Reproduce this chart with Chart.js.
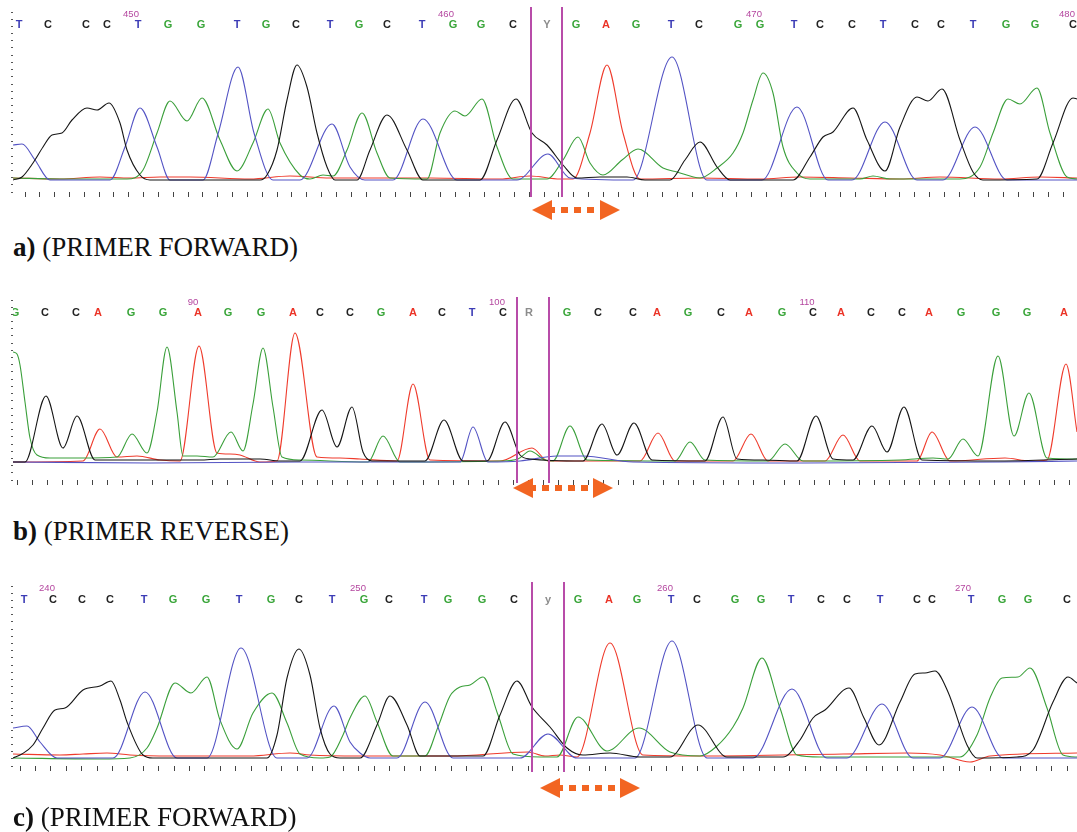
<!DOCTYPE html>
<html>
<head>
<meta charset="utf-8">
<script src="https://cdn.jsdelivr.net/npm/chart.js@4.4.1/dist/chart.umd.min.js"></script>
<style>
  body { margin: 0; background: #fff; width: 1077px; height: 832px; position: relative; overflow: hidden; }
  .panel { position: absolute; left: 0; width: 1077px; }
  .cap { position: absolute; left: 13px; font: 27px "Liberation Serif", "Times New Roman", serif; line-height: 26px; color: #111; white-space: nowrap; }
</style>
</head>
<body>
<div class="panel" style="top:0;height:228px"><canvas id="chartA"></canvas></div>
<div class="panel" style="top:285px;height:225px"><canvas id="chartB"></canvas></div>
<div class="panel" style="top:570px;height:235px"><canvas id="chartC"></canvas></div>
<div class="cap" style="top:234px"><b>a)</b> (PRIMER FORWARD)</div>
<div class="cap" style="top:518px"><b>b)</b> (PRIMER REVERSE)</div>
<div class="cap" style="top:804px"><b>c)</b> (PRIMER FORWARD)</div>
<script>
// ---- panel a (forward) : scan position, signal ----
const aBases = 'TCCCTGGTGCTGCTGGCYGAGTCGGTCCTCCTGGC';
const aBasePos = [19, 48, 86, 107, 138, 168, 201, 237, 266, 296, 330, 359, 387, 422, 453, 481, 513, 547, 576, 606, 636, 671, 699, 738, 760, 794, 820, 852, 883, 915, 941, 973, 1006, 1035, 1073];
const aNums = ['450', '460', '470', '480'];
const aNumPos = [131, 446, 754, 1067];
const aCuts = [531, 562];
const aArrow = [532, 620];
const aT = [[13,35],[22,36],[35,20],[50,0],[110,0],[125,33],[140,72],[157,33],[170,0],[203,0],[218,46],[238,113],[254,47],[273,0],[300,0],[332,56],[350,13],[365,0],[393,0],[423,61],[457,0],[517,0],[548,26],[570,2],[633,0],[672,123],[707,0],[762,0],[797,73],[828,0],[852,0],[885,58],[917,0],[943,0],[975,53],[1007,0],[1077,0]];
const aG = [[13,2],[60,1],[127,1],[143,10],[157,47],[170,79],[187,59],[202,82],[220,40],[237,9],[253,37],[268,71],[280,37],[300,5],[310,1],[323,5],[333,4],[347,30],[362,67],[377,27],[390,2],[427,1],[440,47],[455,69],[465,64],[482,81],[497,33],[513,1],[547,1],[563,20],[578,43],[590,17],[603,5],[622,20],[638,31],[663,12],[677,8],[700,2],[717,12],[733,27],[743,47],[753,80],[763,107],[773,87],[783,33],[797,7],[810,1],[860,1],[873,4],[890,1],[960,1],[980,13],[993,47],[1008,81],[1020,76],[1037,92],[1050,47],[1067,3],[1077,1]];
const aC = [[13,0],[22,3],[33,17],[43,33],[52,45],[62,47],[72,60],[87,72],[97,70],[109,77],[120,57],[127,30],[140,5],[150,0],[260,0],[267,5],[277,30],[287,80],[297,115],[307,93],[317,47],[327,13],[335,0],[357,0],[370,30],[387,65],[407,30],[423,0],[480,0],[497,40],[516,81],[532,47],[547,35],[563,15],[577,2],[600,3],[627,3],[645,0],[670,0],[685,20],[700,38],[717,13],[730,0],[793,0],[810,23],[823,43],[833,48],[853,72],[867,40],[885,9],[900,53],[917,83],[928,79],[942,91],[960,40],[973,8],[983,0],[1037,1],[1053,37],[1073,82],[1077,81]];
const aA = [[13,2],[60,1],[100,3],[130,2],[160,3],[190,3],[250,1],[290,4],[330,2],[430,2],[500,1],[530,4],[560,1],[573,1],[590,47],[607,115],[623,47],[640,1],[700,2],[760,1],[800,3],[850,2],[900,1],[940,3],[1000,1],[1040,3],[1077,2]];

// ---- panel b (reverse) ----
const bBases = 'GCCAGGAGGACCGACTCRGCCAGCAGCACCAGGGA';
const bBasePos = [15, 45, 76, 98, 131, 163, 198, 228, 261, 293, 320, 350, 381, 413, 442, 472, 503, 529, 567, 598, 633, 657, 688, 721, 749, 782, 813, 841, 871, 902, 929, 961, 996, 1027, 1064];
const bNums = ['90', '100', '110'];
const bNumPos = [193, 497, 807];
const bCuts = [517, 549];
const bArrow = [513, 613];
const bT = [[13,0],[150,-1],[300,0],[460,0],[473,35],[488,0],[520,1],[557,6],[583,6],[633,0],[800,-1],[1000,0],[1077,1]];
const bG = [[13,110],[17,108],[20,97],[25,60],[30,24],[37,7],[50,4],[80,4],[117,5],[132,28],[147,9],[157,50],[167,115],[177,50],[183,6],[197,6],[213,5],[231,30],[243,11],[253,58],[263,114],[273,55],[282,5],[300,2],[368,0],[383,26],[400,0],[500,1],[518,3],[530,11],[545,2],[553,1],[570,36],[587,2],[675,1],[690,20],[705,2],[768,1],[785,18],[803,1],[900,2],[933,4],[948,3],[963,23],[978,6],[998,106],[1014,26],[1029,69],[1047,4],[1077,3]];
const bC = [[13,0],[25,0],[46,66],[63,14],[77,46],[95,2],[200,2],[220,3],[260,3],[280,1],[300,1],[322,52],[337,15],[352,55],[363,10],[372,1],[425,1],[444,42],[463,1],[487,1],[505,40],[520,7],[530,3],[583,1],[602,38],[617,7],[634,39],[652,2],[705,1],[723,45],[737,3],[763,2],[797,1],[816,46],[833,3],[853,2],[872,36],[887,10],[904,55],[922,2],[1000,1],[1077,3]];
const bA = [[13,0],[83,1],[100,33],[117,5],[137,6],[160,2],[180,1],[199,116],[217,9],[230,8],[240,7],[260,0],[277,1],[295,129],[317,5],[340,4],[360,3],[397,1],[413,78],[430,2],[500,1],[532,14],[548,1],[640,1],[658,29],[675,1],[733,1],[751,28],[768,1],[825,1],[843,27],[860,1],[917,1],[932,30],[950,1],[1005,4],[1030,1],[1047,2],[1066,98],[1077,30]];

// ---- panel c (forward) ----
const cBases = 'TCCCTGGTGCTGCTGGCyGAGTCGGTCCTCCTGGC';
const cBasePos = [24, 53, 82, 110, 144, 173, 206, 239, 271, 299, 332, 364, 389, 424, 448, 482, 514, 548, 578, 609, 637, 671, 697, 735, 761, 791, 821, 847, 880, 917, 932, 971, 1002, 1028, 1067];
const cNums = ['240', '250', '260', '270'];
const cNumPos = [47, 358, 665, 963];
const cCuts = [532, 564];
const cArrow = [540, 640];
const cT = [[13,30],[27,32],[40,16],[57,0],[113,0],[145,66],[177,0],[207,0],[241,110],[277,0],[307,0],[334,52],[350,16],[360,5],[370,0],[397,0],[425,56],[453,0],[520,0],[548,24],[577,0],[635,0],[672,117],[707,0],[753,0],[792,69],[827,0],[847,0],[882,54],[913,0],[940,0],[972,51],[1003,0],[1077,0]];
const cG = [[13,0],[100,-1],[130,0],[147,10],[157,30],[175,75],[191,65],[207,81],[220,38],[237,9],[253,45],[272,65],[287,35],[300,4],[320,0],[330,1],[343,23],[350,40],[365,62],[377,36],[393,2],[425,2],[438,31],[450,62],[460,71],[470,73],[483,81],[498,43],[513,4],[540,1],[557,1],[578,41],[607,7],[639,30],[670,6],[700,2],[717,12],[733,31],[743,50],[762,100],[780,50],[797,3],[820,1],[960,1],[977,23],[990,60],[1002,80],[1018,81],[1030,90],[1047,50],[1063,3],[1077,1]];
const cC = [[13,0],[22,4],[33,13],[43,30],[55,48],[65,50],[83,68],[100,72],[111,77],[120,58],[127,36],[143,3],[153,0],[267,0],[277,23],[287,80],[299,109],[310,83],[320,30],[330,4],[340,0],[360,0],[377,33],[390,62],[407,33],[420,2],[483,2],[500,43],[517,77],[532,51],[550,31],[567,10],[583,3],[610,5],[640,1],[670,1],[698,33],[727,1],[783,1],[800,18],[813,40],[825,48],[849,70],[864,40],[879,13],[900,56],[915,84],[925,85],[935,87],[948,66],[967,13],[977,0],[1017,1],[1033,8],[1053,56],[1068,81],[1077,75]];
const cA = [[13,4],[60,3],[83,4],[107,5],[130,3],[170,2],[250,2],[290,5],[310,3],[360,2],[450,2],[528,6],[545,2],[560,3],[577,1],[610,115],[643,3],[700,2],[843,4],[907,5],[940,3],[970,-4],[990,2],[1077,5]];

const baseColors = { A: '#eb3427', C: '#222222', G: '#39a539', T: '#3c3cb6' };
const traceColors = { C: '#151515', T: '#5353c4', G: '#3a9f3a', A: '#ef3b2c' };

function toPts(arr) {
  return arr.map(p => ({ x: p[0], y: p[1] }));
}

function overlay(o) {
  return {
    id: 'overlay',
    afterDatasetsDraw(chart) {
      const { ctx, chartArea: ca, scales: { x, y } } = chart;
      ctx.save();
      ctx.beginPath();
      ctx.rect(ca.left, 0, ca.right - ca.left, chart.height);
      ctx.clip();
      ctx.textAlign = 'center';
      ctx.textBaseline = 'middle';
      ctx.font = 'bold 11px "Liberation Sans", Arial, sans-serif';
      o.bases.split('').forEach((b, i) => {
        ctx.fillStyle = baseColors[b] || '#8c8c8c';
        ctx.fillText(b, x.getPixelForValue(o.basePos[i]), y.getPixelForValue(o.baseY));
      });
      ctx.font = '9.5px "Liberation Sans", Arial, sans-serif';
      ctx.fillStyle = '#b4469f';
      o.nums.forEach((n, i) => ctx.fillText(n, x.getPixelForValue(o.numPos[i]), y.getPixelForValue(o.numY)));
      ctx.restore();

      // cut markers
      ctx.save();
      ctx.strokeStyle = '#b84ca9';
      ctx.lineWidth = 2;
      o.cuts.forEach(v => {
        const px = Math.round(x.getPixelForValue(v));
        ctx.beginPath();
        ctx.moveTo(px, y.getPixelForValue(o.cutRange[1]));
        ctx.lineTo(px, y.getPixelForValue(o.cutRange[0]));
        ctx.stroke();
      });

      // double arrow
      const x0 = x.getPixelForValue(o.arrow[0]);
      const x1 = x.getPixelForValue(o.arrow[1]);
      const ay = y.getPixelForValue(o.arrowY);
      const hw = 20, hh = 10;
      ctx.fillStyle = '#f26522';
      ctx.beginPath();
      ctx.moveTo(x0, ay); ctx.lineTo(x0 + hw, ay - hh); ctx.lineTo(x0 + hw, ay + hh);
      ctx.closePath(); ctx.fill();
      ctx.beginPath();
      ctx.moveTo(x1, ay); ctx.lineTo(x1 - hw, ay - hh); ctx.lineTo(x1 - hw, ay + hh);
      ctx.closePath(); ctx.fill();
      ctx.strokeStyle = '#f26522';
      ctx.lineWidth = 6;
      ctx.setLineDash([7, 6]);
      ctx.lineDashOffset = 3;
      ctx.beginPath();
      ctx.moveTo(x0 + hw - 1, ay); ctx.lineTo(x1 - hw, ay);
      ctx.stroke();
      ctx.restore();
    }
  };
}

function makePanel(id, tr, o) {
  new Chart(document.getElementById(id), {
    type: 'line',
    data: {
      datasets: ['C', 'T', 'G', 'A'].map(k => ({
        data: toPts(tr[k]),
        borderColor: traceColors[k],
        borderWidth: 1.1,
        pointRadius: 0,
        fill: false,
        cubicInterpolationMode: 'monotone'
      }))
    },
    options: {
      responsive: true,
      maintainAspectRatio: false,
      animation: false,
      events: [],
      layout: { padding: o.padding },
      plugins: { legend: { display: false }, tooltip: { enabled: false } },
      scales: {
        x: {
          type: 'linear', min: 13, max: 1077,
          border: { display: false },
          grid: { drawOnChartArea: false, tickLength: 5, color: '#444' },
          ticks: { display: false },
          afterBuildTicks: ax => {
            const t = [];
            for (let v = o.xTick[0]; v <= 1077; v += o.xTick[1]) t.push({ value: v });
            ax.ticks = t;
          }
        },
        y: {
          min: o.yRange[0], max: o.yRange[1],
          border: { display: false },
          grid: { drawOnChartArea: false, tickLength: 2, color: '#555' },
          ticks: { display: false },
          afterBuildTicks: ax => {
            const t = [];
            for (let v = o.yRange[0]; v <= o.yRange[1]; v += 7.2) t.push({ value: v });
            ax.ticks = t;
          }
        }
      }
    },
    plugins: [overlay(o)]
  });
}

makePanel('chartA', { C: aC, T: aT, G: aG, A: aA }, {
  bases: aBases, basePos: aBasePos, baseY: 155, nums: aNums, numPos: aNumPos, numY: 166,
  cuts: aCuts, cutRange: [-17, 173], arrow: aArrow, arrowY: -30,
  yRange: [-12, 173], xTick: [25, 14.83], padding: { top: 7, bottom: 31, left: 11, right: 0 }
});
makePanel('chartB', { C: bC, T: bT, G: bG, A: bA }, {
  bases: bBases, basePos: bBasePos, baseY: 149, nums: bNums, numPos: bNumPos, numY: 160,
  cuts: bCuts, cutRange: [-21, 165], arrow: bArrow, arrowY: -26,
  yRange: [-18, 165], xTick: [17, 15.04], padding: { top: 12, bottom: 25, left: 11, right: 0 }
});
makePanel('chartC', { C: cC, T: cT, G: cG, A: cA }, {
  bases: cBases, basePos: cBasePos, baseY: 158, nums: cNums, numPos: cNumPos, numY: 170,
  cuts: cCuts, cutRange: [-14, 176], arrow: cArrow, arrowY: -30,
  yRange: [-8, 176], xTick: [20, 15.4], padding: { top: 12, bottom: 34, left: 11, right: 0 }
});
</script>
</body>
</html>
